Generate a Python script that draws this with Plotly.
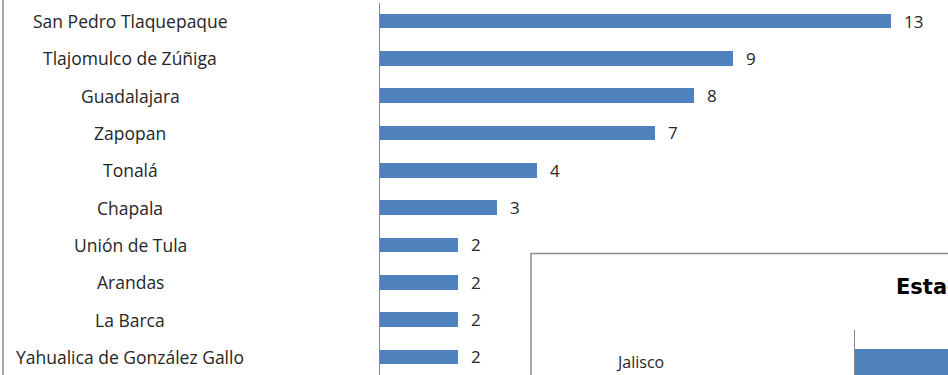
import plotly.graph_objects as go

# ---- data ----
municipios = ["San Pedro Tlaquepaque", "Tlajomulco de Zúñiga", "Guadalajara", "Zapopan",
              "Tonalá", "Chapala", "Unión de Tula", "Arandas", "La Barca",
              "Yahualica de González Gallo"]
casos = [13, 9, 8, 7, 4, 3, 2, 2, 2, 2]

estado_cat = ["Jalisco"]
estado_val = [52]
estado_title = "Estados"

W, H = 948, 375
FONT = "'Open Sans', 'Noto Sans', sans-serif"
TFONT = "'DejaVu Sans', sans-serif"
BLUE = "#4F81BD"
TXT = "#262626"
AX = "#868686"

pos = list(range(len(municipios)))

fig = go.Figure()
fig.add_trace(go.Bar(
    x=casos, y=pos, orientation="h", marker=dict(color=BLUE, line=dict(width=0)),
    width=0.40, xaxis="x", yaxis="y", hoverinfo="skip", showlegend=False,
))
fig.add_trace(go.Bar(
    x=estado_val, y=[0], orientation="h", marker=dict(color=BLUE, line=dict(width=0)),
    width=0.58, xaxis="x2", yaxis="y2", hoverinfo="skip", showlegend=False,
))

ppu = (891 - 379) / 13.0
x_dom0 = 379 / W
x_range = [0, (W - 379) / ppu]

top_px = 3
sp = 37.33
first = 21 - top_px
plot_h = H - top_px
y_range = [(plot_h - first) / sp, -first / sp]

annotations = []
for i, (m, v) in enumerate(zip(municipios, casos)):
    annotations.append(dict(x=130 / W, xref="paper", y=i, yref="y", text=m,
                            showarrow=False, xanchor="center", yanchor="middle",
                            font=dict(family=FONT, size=17.5, color=TXT)))
    annotations.append(dict(x=v, xref="x", y=i, yref="y", text=str(v),
                            showarrow=False, xanchor="left", yanchor="middle", xshift=11,
                            font=dict(family=FONT, size=17, color=TXT)))

# second chart
annotations.append(dict(x=640 / W, xref="paper", y=0, yref="y2", text=estado_cat[0],
                        showarrow=False, xanchor="center", yanchor="middle",
                        font=dict(family=FONT, size=16, color=TXT)))
annotations.append(dict(x=894 / W, xref="paper", y=1 - 287 / H, yref="paper", text="<b>" + estado_title + "</b>",
                        showarrow=False, xanchor="left", yanchor="middle",
                        font=dict(family=TFONT, size=21, color="#000000")))

y2_top = (H - 330) / H
fig.update_layout(
    width=W, height=H, margin=dict(l=0, r=0, t=0, b=0),
    paper_bgcolor="white", plot_bgcolor="rgba(0,0,0,0)",
    xaxis=dict(domain=[x_dom0, 1], range=x_range, visible=False, fixedrange=True),
    yaxis=dict(domain=[0, plot_h / H], range=y_range, showticklabels=False, showgrid=False,
               zeroline=False, showline=False, ticks=""),
    xaxis2=dict(domain=[854 / W, 1], range=[0, 3], visible=False, anchor="y2"),
    yaxis2=dict(domain=[0, y2_top], range=[-13 / 45, 32 / 45], showticklabels=False,
                showgrid=False, zeroline=False, showline=False, anchor="x2", ticks=""),
    annotations=annotations,
    bargap=0,
    shapes=[
        # main category axis line
        dict(type="line", xref="paper", yref="paper", x0=379.5 / W, x1=379.5 / W,
             y0=0, y1=plot_h / H, line=dict(color=AX, width=1)),
        # left chart border
        dict(type="line", xref="paper", yref="paper", x0=3 / W, x1=3 / W,
             y0=0, y1=1, line=dict(color="#8c8c8c", width=1.5)),
        # second chart border
        dict(type="rect", xref="paper", yref="paper", x0=531 / W, x1=1.01,
             y0=-0.01, y1=1 - 253.5 / H, line=dict(color="#8c8c8c", width=1.5),
             fillcolor="rgba(0,0,0,0)"),
        # second chart axis line
        dict(type="line", xref="paper", yref="paper", x0=854.5 / W, x1=854.5 / W,
             y0=0, y1=y2_top, line=dict(color=AX, width=1)),
    ],
)

fig.write_html("out.html", config={"displayModeBar": False},
               post_script="document.body.style.margin='0';document.body.style.overflow='hidden';")
